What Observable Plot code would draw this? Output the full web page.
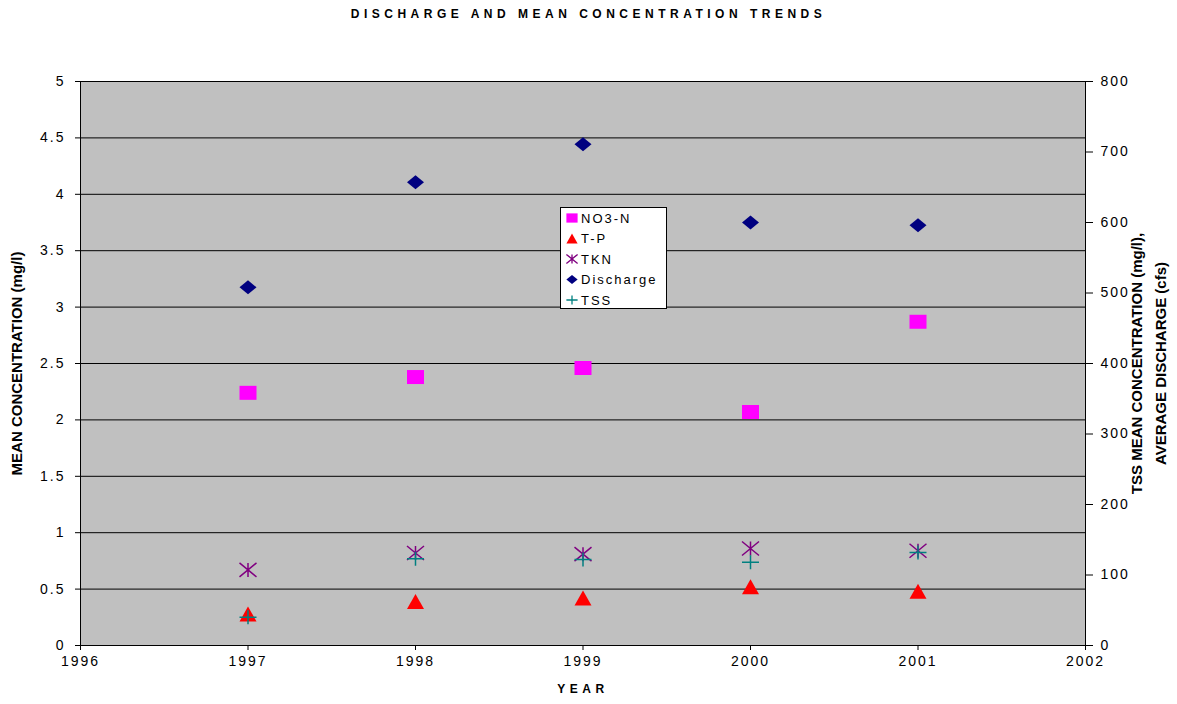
<!DOCTYPE html>
<html>
<head>
<meta charset="utf-8">
<script src="https://cdn.jsdelivr.net/npm/d3@7"></script>
<script src="https://cdn.jsdelivr.net/npm/@observablehq/plot@0.6"></script>
<style>
  html, body { margin: 0; padding: 0; background: #fff; }
  #wrap { position: relative; width: 1177px; height: 704px; font-family: "Liberation Sans", Arial, sans-serif; }
  #title { height: 30px; line-height: 29px; text-align: center; font-size: 12px; font-weight: bold; letter-spacing: 4.5px; color: #000; }
  svg text { font-family: "Liberation Sans", Arial, sans-serif; }
  g[aria-label="y-axis tick label"] text, g[aria-label="x-axis tick label"] text { letter-spacing: 2px; }
  text.yearlbl { letter-spacing: 4.5px; }
</style>
</head>
<body>
<div id="wrap">
  <div id="title">DISCHARGE AND MEAN CONCENTRATION TRENDS</div>
  <div id="chart"></div>
</div>
<script>
// ---- data ----
const years = [1997, 1998, 1999, 2000, 2001];
const no3n = [2.24, 2.38, 2.46, 2.07, 2.87];          // mg/l (left axis)
const tp = [0.28, 0.39, 0.42, 0.52, 0.48];            // mg/l (left axis)
const tkn = [0.67, 0.82, 0.81, 0.86, 0.84];           // mg/l (left axis)
const discharge = [508, 657, 711, 600, 596];          // cfs (right axis)
const tss = [40, 123, 122, 118, 132];                 // mg/l (right axis)
const leftTicks = [0, 0.5, 1, 1.5, 2, 2.5, 3, 3.5, 4, 4.5, 5];
const rightTicks = [0, 100, 200, 300, 400, 500, 600, 700, 800];
const xTicks = [1996, 1997, 1998, 1999, 2000, 2001, 2002];
const seriesNames = ["NO3-N", "T-P", "TKN", "Discharge", "TSS"];
const seriesColors = ["#FF00FF", "#FF0000", "#800080", "#000080", "#008080"];

const LEFT_MAX = 5, RIGHT_MAX = 800;
const k = RIGHT_MAX / LEFT_MAX; // right-axis units per left-axis unit

// ---- marker shapes (scale s) ----
function shapes(s) {
  const w = 8.5 * s, h = 7 * s;
  return {
    square: { draw(c) { c.rect(-w, -h, 2 * w, 2 * h); } },
    triangle: { draw(c) { c.moveTo(0, -h - 0.5 * s); c.lineTo(w, h + 0.5 * s); c.lineTo(-w, h + 0.5 * s); c.closePath(); } },
    asterisk: { draw(c) { c.moveTo(-w, -h); c.lineTo(w, h); c.moveTo(-w, h); c.lineTo(w, -h); c.moveTo(0, -h); c.lineTo(0, h); } },
    diamond: { draw(c) { c.moveTo(0, -h); c.lineTo(w, 0); c.lineTo(0, h); c.lineTo(-w, 0); c.closePath(); } },
    plus: { draw(c) { c.moveTo(-w, 0); c.lineTo(w, 0); c.moveTo(0, -h); c.lineTo(0, h); } }
  };
}
const S = shapes(1);

const rows = (vals, scale = 1) => years.map((y, i) => ({ year: y, v: vals[i] / scale }));

const chart = Plot.plot({
  width: 1177,
  height: 674,
  marginTop: 51,
  marginBottom: 59,
  marginLeft: 80,
  marginRight: 92,
  x: { domain: [1996, 2002], axis: null },
  y: { domain: [0, LEFT_MAX], axis: null },
  style: { fontFamily: "Liberation Sans, Arial, sans-serif", background: "#fff", overflow: "visible" },
  marks: [
    Plot.frame({ fill: "#C0C0C0" }),
    Plot.gridY(leftTicks, { stroke: "#000", strokeOpacity: 1, strokeWidth: 1 }),
    Plot.frame({ stroke: "#000", strokeWidth: 1 }),
    // left axis
    Plot.axisY(leftTicks, { anchor: "left", tickSize: 5, tickPadding: 10, label: null, tickFormat: d => String(d), fontSize: 14 }),
    // right axis (values in right units)
    Plot.axisY(rightTicks.map(v => v / k), { anchor: "right", tickSize: 7, tickPadding: 8, label: null, tickFormat: d => String(Math.round(d * k)), fontSize: 14 }),
    // x axis
    Plot.axisX(xTicks, { anchor: "bottom", tickSize: 5, tickPadding: 6, label: null, tickFormat: d => String(d), fontSize: 14 }),
    // axis titles
    Plot.text(["MEAN CONCENTRATION (mg/l)"], { frameAnchor: "left", dx: -63, rotate: -90, textAnchor: "middle", text: d => d, fontSize: 15, fontWeight: "bold", fill: "#000" }),
    Plot.text(["TSS MEAN CONCENTRATION (mg/l),"], { frameAnchor: "right", dx: 52, rotate: -90, textAnchor: "middle", text: d => d, fontSize: 15, fontWeight: "bold", fill: "#000" }),
    Plot.text(["AVERAGE DISCHARGE (cfs)"], { frameAnchor: "right", dx: 76, rotate: -90, textAnchor: "middle", text: d => d, fontSize: 15, fontWeight: "bold", fill: "#000" }),
    Plot.text(["YEAR"], { frameAnchor: "bottom", dy: 47, textAnchor: "middle", text: d => d, fontSize: 12, fontWeight: "bold", fill: "#000" }),
    // series
    Plot.dot(rows(no3n), { x: "year", y: "v", symbol: S.square, fill: seriesColors[0], stroke: "none" }),
    Plot.dot(rows(tp), { x: "year", y: "v", symbol: S.triangle, fill: seriesColors[1], stroke: "none" }),
    Plot.dot(rows(tkn), { x: "year", y: "v", symbol: S.asterisk, fill: "none", stroke: seriesColors[2], strokeWidth: 1.5 }),
    Plot.dot(rows(discharge, k), { x: "year", y: "v", symbol: S.diamond, fill: seriesColors[3], stroke: "none" }),
    Plot.dot(rows(tss, k), { x: "year", y: "v", symbol: S.plus, fill: "none", stroke: seriesColors[4], strokeWidth: 1.5 })
  ]
});
document.getElementById("chart").appendChild(chart);

const svg = d3.select(chart);
// letter-spaced YEAR label
svg.selectAll("text").filter(function () { return this.textContent === "YEAR"; }).classed("yearlbl", true);

// ---- legend (inside the svg) ----
const lg = svg.append("g").attr("transform", "translate(560,177)").attr("text-anchor", "start");
lg.append("rect").attr("x", 0.5).attr("y", 0.5).attr("width", 106).attr("height", 101)
  .attr("fill", "#fff").attr("stroke", "#000");
const LS = shapes(0.66);
const legendShapes = [LS.square, LS.triangle, LS.asterisk, LS.diamond, LS.plus];
const strokeOnly = [false, false, true, false, true];
seriesNames.forEach((name, i) => {
  const cy = 11 + i * 20.5;
  const p = d3.path();
  legendShapes[i].draw(p);
  lg.append("path").attr("transform", `translate(12,${cy})`).attr("d", p.toString())
    .attr("fill", strokeOnly[i] ? "none" : seriesColors[i])
    .attr("stroke", strokeOnly[i] ? seriesColors[i] : "none")
    .attr("stroke-width", 1.3);
  lg.append("text").attr("x", 21).attr("y", cy).attr("dy", "0.35em").attr("text-anchor", "start")
    .attr("font-size", 13).attr("letter-spacing", "2px").attr("fill", "#000").text(name);
});
</script>
</body>
</html>
